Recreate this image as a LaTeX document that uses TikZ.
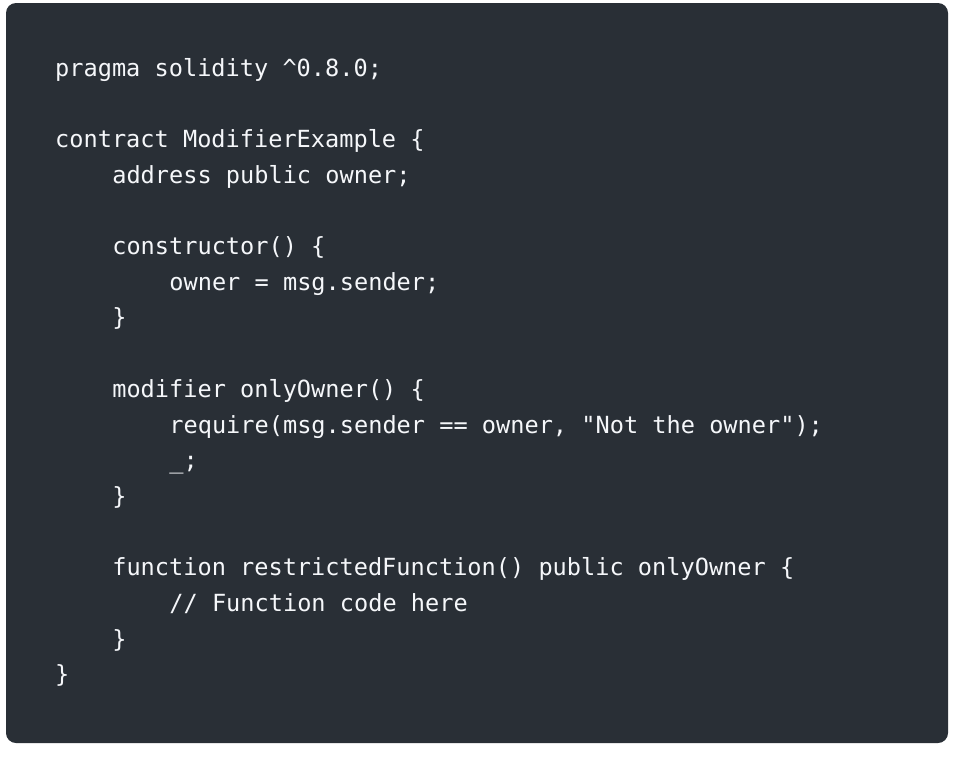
\documentclass[tikz,border=0pt]{standalone}
\usepackage{fontspec}
\setmonofont{DejaVu Sans Mono}
\definecolor{bgc}{RGB}{41,47,54}
\definecolor{txt}{RGB}{245,247,250}
\begin{document}
\begin{tikzpicture}[x=1pt,y=-1pt,
  code/.style={anchor=base west,inner sep=0pt,text=txt,font=\ttfamily\fontsize{23.6}{28}\selectfont}]
\useasboundingbox (0,0) rectangle (960,758);
\fill[white] (0,0) rectangle (960,758);
\fill[bgc,rounded corners=10pt] (6,3) rectangle (948,743);
\def\LH{35.7}
\def\ind{57.1}
\node[code] (l0) at (55,{68+8}) {pragma solidity \string^0.8.0;};
\node[code] (l2) at (55,{68+8+2*\LH}) {contract ModifierExample \{};
\node[code] (l3) at ({55+\ind},{68+8+3*\LH}) {address public owner;};
\node[code] (l5) at ({55+\ind},{68+8+5*\LH}) {constructor() \{};
\node[code] (l6) at ({55+2*\ind},{68+8+6*\LH}) {owner = msg.sender;};
\node[code] (l7) at ({55+\ind},{68+8+7*\LH}) {\}};
\node[code] (l9) at ({55+\ind},{68+8+9*\LH}) {modifier onlyOwner() \{};
\node[code] (l10) at ({55+2*\ind},{68+8+10*\LH}) {require(msg.sender == owner, "Not the owner");};
\node[code] (l11) at ({55+2*\ind},{68+8+11*\LH}) {\_;};
\node[code] (l12) at ({55+\ind},{68+8+12*\LH}) {\}};
\node[code] (l14) at ({55+\ind},{68+8+14*\LH}) {function restrictedFunction() public onlyOwner \{};
\node[code] (l15) at ({55+2*\ind},{68+8+15*\LH}) {// Function code here};
\node[code] (l16) at ({55+\ind},{68+8+16*\LH}) {\}};
\node[code] (l17) at (55,{68+8+17*\LH}) {\}};
\end{tikzpicture}
\end{document}
